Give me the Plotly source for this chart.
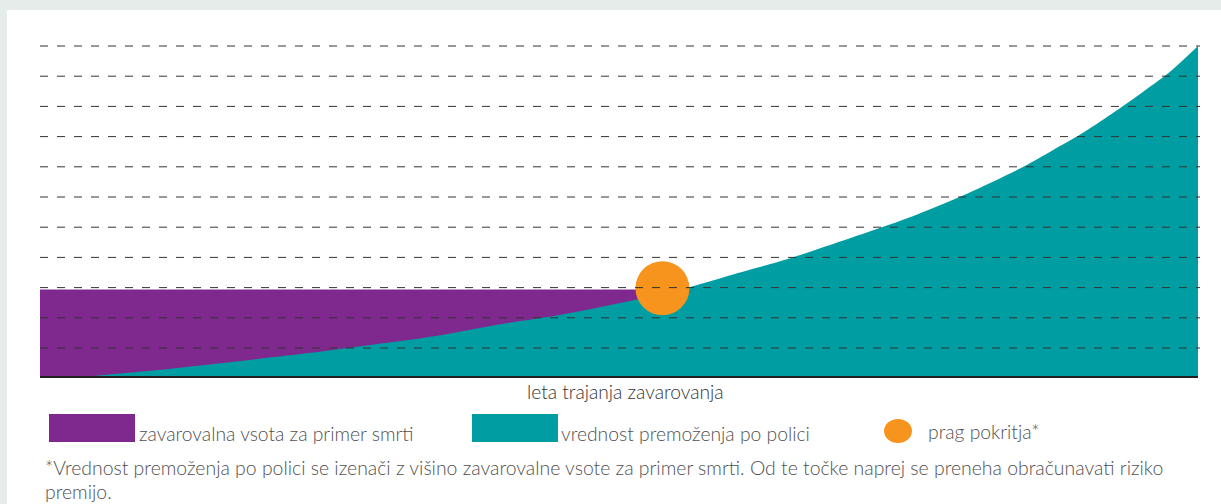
import plotly.graph_objects as go

# ---- data ----
years_teal = [1.8, 4, 6, 8, 10, 12, 14, 16, 18, 20, 22, 24, 26, 28, 30, 32, 34, 35, 36, 37, 38, 39, 40]
value_teal = [0.07, 0.26, 0.47, 0.69, 0.92, 1.17, 1.45, 1.8, 2.1, 2.48, 2.9, 3.45, 4.0, 4.64, 5.31,
              6.1, 7.02, 7.56, 8.11, 8.74, 9.41, 10.12, 11.0]
years_purple = [0, 22.3]
value_purple = [2.94, 2.94]
threshold_year = [21.5]
threshold_value = [2.98]
grid_levels = [1, 2, 3, 4, 5, 6, 7, 8, 9, 10, 11]

legend_labels = ["zavarovalna vsota za primer smrti", "vrednost premoženja po polici", "prag pokritja*"]
axis_title = "leta trajanja zavarovanja"
footnote_1 = ("*Vrednost premoženja po polici se izenači z višino zavarovalne vsote za primer smrti. "
              "Od te točke naprej se preneha obračunavati riziko")
footnote_2 = "premijo."

PURPLE = "#7f298e"
TEAL = "#009ea3"
ORANGE = "#f7941e"
TEXT = "#505050"
FONT = "Lato, 'Open Sans', sans-serif"
FS = 19.3
FS_AXIS = 19.2
FS_NOTE = 19.4
WEIGHT = 300

W, H = 1221, 504
L, R, T, B = 40, 23, 45, 128
PW = W - L - R
PH = H - T - B


def px_x(px):
    return (px - L) / PW


def px_y(py):
    return (T + PH - py) / PH


fig = go.Figure()
fig.add_trace(go.Scatter(x=years_purple, y=value_purple, mode="none", fill="tozeroy",
                         fillcolor=PURPLE, showlegend=False, hoverinfo="skip"))
fig.add_trace(go.Scatter(x=years_teal, y=value_teal, mode="lines", fill="tozeroy",
                         line=dict(width=0, shape="spline", smoothing=0.8, color=TEAL),
                         fillcolor=TEAL, showlegend=False, hoverinfo="skip"))
fig.add_trace(go.Scatter(x=threshold_year, y=threshold_value, mode="markers",
                         marker=dict(size=54, color=ORANGE, line=dict(width=0)),
                         showlegend=False, hoverinfo="skip"))

shapes = []
# white panel over light background
shapes.append(dict(type="rect", xref="paper", yref="paper", layer="below",
                   x0=px_x(7), x1=px_x(W + 20), y0=px_y(H + 20), y1=px_y(10),
                   fillcolor="white", line=dict(width=0)))
# dashed grid lines on top of fills
for g in grid_levels:
    shapes.append(dict(type="line", xref="paper", yref="y", layer="above",
                       x0=0, x1=px_x(1200), y0=g, y1=g,
                       line=dict(color="#333333", width=1, dash="8px,9px")))
# legend swatches
shapes.append(dict(type="rect", xref="paper", yref="paper", x0=px_x(49), x1=px_x(135),
                   y0=px_y(442), y1=px_y(414), fillcolor=PURPLE, line=dict(width=0)))
shapes.append(dict(type="rect", xref="paper", yref="paper", x0=px_x(472), x1=px_x(558),
                   y0=px_y(442), y1=px_y(414), fillcolor=TEAL, line=dict(width=0)))
shapes.append(dict(type="circle", xref="paper", yref="paper", x0=px_x(884), x1=px_x(912),
                   y0=px_y(443), y1=px_y(419), fillcolor=ORANGE, line=dict(width=0)))


def note(text, px, py, size, color=TEXT, anchor="left"):
    return dict(text=text, x=px_x(px), y=px_y(py), xref="paper", yref="paper",
                xanchor=anchor, yanchor="middle", showarrow=False,
                font=dict(size=size, color=color, family=FONT, weight=WEIGHT))


annotations = [
    note(axis_title, 626, 391, FS_AXIS, color="#333333", anchor="center"),
    note(legend_labels[0], 137, 433, FS),
    note(legend_labels[1], 559, 433, FS),
    note(legend_labels[2], 926, 431, FS),
    note(footnote_1, 43, 467, FS_NOTE),
    note(footnote_2, 43, 491, FS_NOTE),
]

fig.update_layout(
    width=W, height=H,
    margin=dict(l=L, r=R, t=T, b=B, pad=0),
    paper_bgcolor="#e6ece9",
    plot_bgcolor="white",
    shapes=shapes,
    annotations=annotations,
    showlegend=False,
    xaxis=dict(range=[0, 40], showgrid=False, zeroline=False, showticklabels=False,
               ticks="", showline=True, linecolor="#231f20", linewidth=2, fixedrange=True),
    yaxis=dict(range=[0.073, 11.033], showgrid=False, zeroline=False, showticklabels=False,
               ticks="", showline=False, fixedrange=True),
)

fig.write_html("out.html", config={"displayModeBar": False},
               post_script="document.body.style.margin='0';document.body.style.padding='0';")
